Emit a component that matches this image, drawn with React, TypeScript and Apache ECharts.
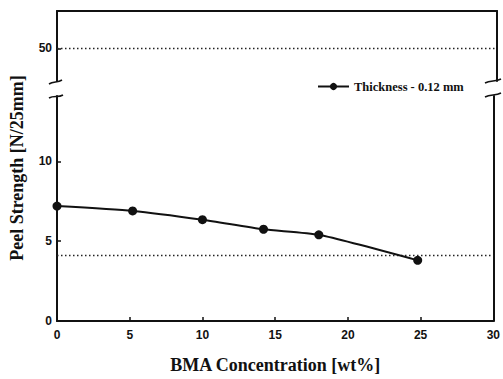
import React, { useEffect, useRef } from "react";
import * as echarts from "echarts";

// ---- data ----
const concentration = [0, 5.2, 10, 14.2, 18, 24.8];
const peelStrength = [7.2, 6.9, 6.35, 5.75, 5.4, 3.8];
const seriesName = "Thickness - 0.12 mm";
const xRange = [0, 30];
const xTickStep = 5;
const lowerYRange = [0, 14.1];
const upperYRange = [47.95, 52.35];
const lowerYTicks = [0, 5, 10];
const upperYTicks = [50];
const upperRefLevel = 50;
const lowerRefLevel = 4.1;
const xTitle = "BMA Concentration [wt%]";
const yTitle = "Peel Strength [N/25mm]";

// ---- layout ----
const W = 503;
const H = 379;
const LEFT = 57;
const RIGHT_X = 497;
const UPPER_TOP = 11;
const UPPER_BOTTOM = 81;
const LOWER_TOP = 96;
const LOWER_BOTTOM = 323;

const SERIF = "'Liberation Serif', 'Times New Roman', serif";
const SANS = "'Liberation Sans', Arial, sans-serif";
const INK = "#111";

export default function App() {
  const ref = useRef<HTMLDivElement>(null);
  useEffect(() => {
    if (!ref.current) return;
    const chart = echarts.init(ref.current, undefined, { renderer: "svg" });
    const axisLine = { show: true, lineStyle: { color: INK, width: 2 } };
    const tickLabel = { color: INK, fontFamily: SANS, fontWeight: "bold" as const, fontSize: 12 };
    const brace = (x1: number, y1: number, x2: number, y2: number) => ({
      type: "bezierCurve",
      shape: {
        x1, y1, x2, y2,
        cpx1: x1 + (x2 - x1) * 0.35, cpy1: y1 - 3,
        cpx2: x1 + (x2 - x1) * 0.65, cpy2: y2 + 3,
      },
      style: { stroke: INK, lineWidth: 1.5, fill: null },
      silent: true,
    });
    chart.setOption({
      animation: false,
      backgroundColor: "#fff",
      grid: [
        { left: LEFT, right: W - RIGHT_X, top: UPPER_TOP, height: UPPER_BOTTOM - UPPER_TOP },
        { left: LEFT, right: W - RIGHT_X, top: LOWER_TOP, bottom: H - LOWER_BOTTOM },
      ],
      legend: {
        data: [seriesName],
        left: 312,
        top: 75,
        itemWidth: 31,
        itemHeight: 9,
        textStyle: { color: INK, fontFamily: SERIF, fontWeight: "bold", fontSize: 12.5 },
      },
      xAxis: [
        {
          gridIndex: 0, type: "value", position: "top",
          min: xRange[0], max: xRange[1], interval: xTickStep,
          axisLine, axisTick: { show: false }, axisLabel: { show: false }, splitLine: { show: false },
        },
        {
          gridIndex: 1, type: "value", position: "bottom",
          min: xRange[0], max: xRange[1], interval: xTickStep,
          axisLine,
          axisTick: { show: true, inside: true, length: 4, lineStyle: { color: INK, width: 1.5 } },
          axisLabel: { ...tickLabel, margin: 8 },
          splitLine: { show: false },
          name: xTitle, nameLocation: "middle", nameGap: 35,
          nameTextStyle: { color: INK, fontFamily: SERIF, fontWeight: "bold", fontSize: 18 },
        },
      ],
      yAxis: [
        {
          gridIndex: 0, type: "value", position: "left",
          min: upperYRange[0], max: upperYRange[1],
          axisLine,
          axisTick: { show: true, inside: true, length: 4, customValues: upperYTicks, lineStyle: { color: INK, width: 1.5 } },
          axisLabel: { ...tickLabel, margin: 5, customValues: upperYTicks },
          splitLine: { show: false },
        },
        {
          gridIndex: 0, type: "value", position: "right",
          min: upperYRange[0], max: upperYRange[1],
          axisLine, axisTick: { show: false }, axisLabel: { show: false }, splitLine: { show: false },
        },
        {
          gridIndex: 1, type: "value", position: "left",
          min: lowerYRange[0], max: lowerYRange[1],
          axisLine,
          axisTick: { show: true, inside: true, length: 4, customValues: lowerYTicks, lineStyle: { color: INK, width: 1.5 } },
          axisLabel: { ...tickLabel, margin: 5, customValues: lowerYTicks },
          splitLine: { show: false },
        },
        {
          gridIndex: 1, type: "value", position: "right",
          min: lowerYRange[0], max: lowerYRange[1],
          axisLine, axisTick: { show: false }, axisLabel: { show: false }, splitLine: { show: false },
        },
      ],
      series: [
        {
          type: "line", xAxisIndex: 0, yAxisIndex: 0, silent: true, symbol: "none",
          data: [[xRange[0], upperRefLevel], [xRange[1], upperRefLevel]],
          lineStyle: { color: "#222", width: 1.5, type: [1.5, 2.5] },
        },
        {
          type: "line", xAxisIndex: 1, yAxisIndex: 2, silent: true, symbol: "none",
          data: [[xRange[0], lowerRefLevel], [xRange[1], lowerRefLevel]],
          lineStyle: { color: "#222", width: 1.5, type: [1.5, 2.5] },
        },
        {
          name: seriesName, type: "line", xAxisIndex: 1, yAxisIndex: 2,
          data: concentration.map((x, i) => [x, peelStrength[i]]),
          smooth: 0.2,
          symbol: "circle", symbolSize: 9,
          itemStyle: { color: INK },
          lineStyle: { color: INK, width: 2 },
        },
      ],
      graphic: [
        {
          type: "text", x: 17, y: 168, rotation: Math.PI / 2,
          style: {
            text: yTitle, fill: INK, font: `bold 18px ${SERIF}`,
            textAlign: "center", textVerticalAlign: "middle",
          },
        },
        brace(LEFT - 8, UPPER_BOTTOM + 3, LEFT + 5, UPPER_BOTTOM - 1),
        brace(LEFT - 8, LOWER_TOP + 2, LEFT + 6, LOWER_TOP - 1),
        brace(RIGHT_X - 12, UPPER_BOTTOM + 2, RIGHT_X + 4, UPPER_BOTTOM - 2),
        brace(RIGHT_X - 12, LOWER_TOP + 1, RIGHT_X + 4, LOWER_TOP - 3),
      ],
    });
    return () => chart.dispose();
  }, []);
  return (
    <div
      ref={ref}
      style={{ position: "fixed", left: 0, top: 0, width: W, height: H, background: "#fff" }}
    />
  );
}
